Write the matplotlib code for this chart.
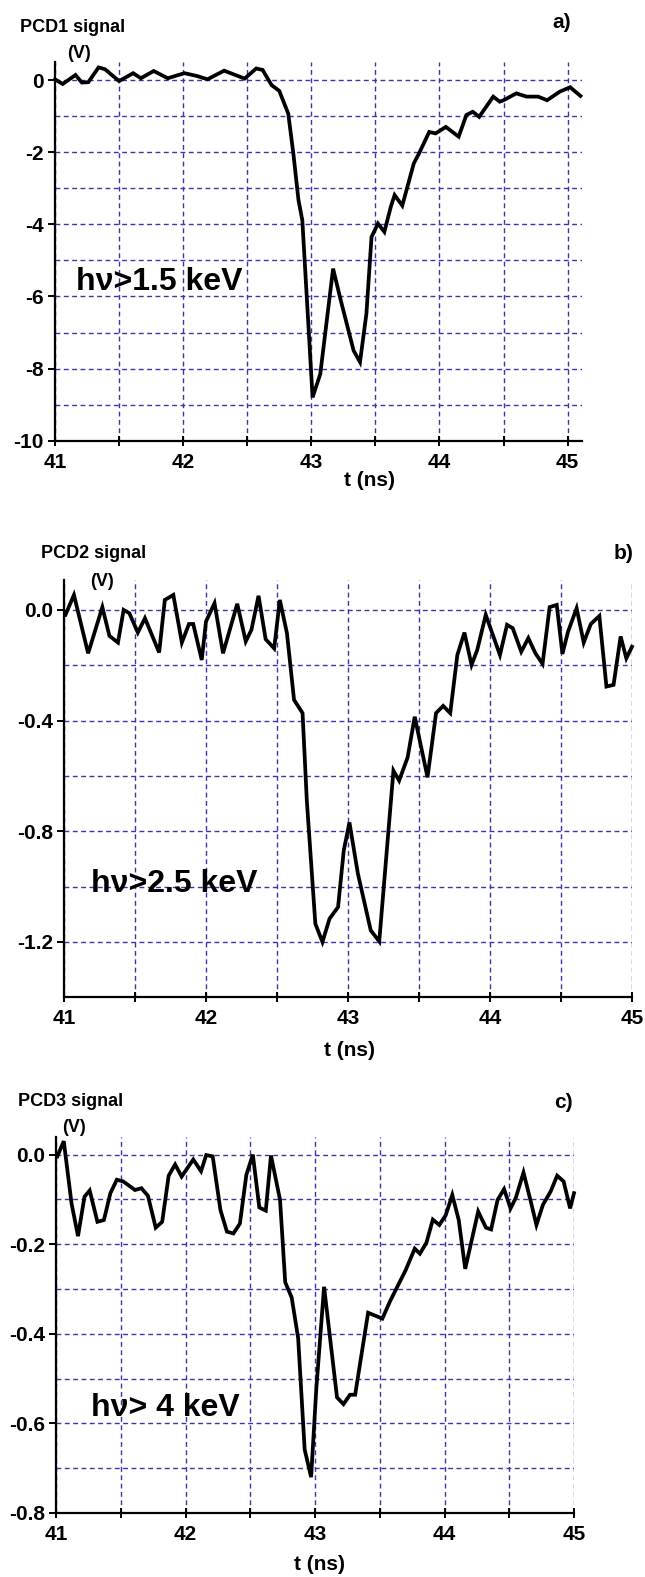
import matplotlib
matplotlib.use('Agg')
import matplotlib.pyplot as plt

plt.rcParams['font.family'] = ['Liberation Sans', 'DejaVu Sans']
plt.rcParams['font.weight'] = 'bold'
plt.rcParams['axes.unicode_minus'] = False

# panel a: PCD1
t_a = [41.0, 41.06, 41.16, 41.21, 41.26, 41.34, 41.39, 41.50, 41.61, 41.67,
       41.77, 41.88, 42.01, 42.11, 42.19, 42.32, 42.48, 42.57, 42.62, 42.69,
       42.75, 42.82, 42.86, 42.90, 42.93, 43.01, 43.07, 43.17, 43.23, 43.33,
       43.38, 43.43, 43.47, 43.52, 43.57, 43.62, 43.65, 43.71, 43.80, 43.84,
       43.92, 43.97, 44.05, 44.15, 44.21, 44.26, 44.31, 44.42, 44.47, 44.50,
       44.60, 44.68, 44.77, 44.84, 44.94, 45.02, 45.10]
v_a = [0.02, -0.11, 0.14, -0.07, -0.06, 0.35, 0.30, -0.03, 0.19, 0.05,
       0.25, 0.05, 0.19, 0.11, 0.02, 0.26, 0.04, 0.32, 0.28, -0.14,
       -0.30, -0.93, -2.04, -3.33, -3.89, -8.80, -8.15, -5.23, -6.11, -7.50,
       -7.82, -6.48, -4.35, -3.98, -4.21, -3.52, -3.19, -3.48, -2.31, -2.04,
       -1.44, -1.48, -1.30, -1.57, -0.97, -0.88, -1.02, -0.46, -0.60, -0.56,
       -0.37, -0.46, -0.46, -0.56, -0.32, -0.20, -0.44]

# panel b: PCD2
t_b = [41.01, 41.07, 41.17, 41.27, 41.32, 41.38, 41.42, 41.46, 41.52, 41.57,
       41.67, 41.71, 41.77, 41.83, 41.88, 41.91, 41.97, 42.00, 42.06, 42.12,
       42.22, 42.28, 42.32, 42.37, 42.42, 42.48, 42.52, 42.57, 42.62, 42.68,
       42.71, 42.77, 42.82, 42.87, 42.93, 42.97, 43.01, 43.07, 43.16, 43.22,
       43.32, 43.36, 43.42, 43.47, 43.56, 43.62, 43.67, 43.72, 43.77, 43.82,
       43.87, 43.91, 43.97, 44.07, 44.12, 44.16, 44.22, 44.27, 44.32, 44.37,
       44.42, 44.47, 44.51, 44.55, 44.61, 44.66, 44.71, 44.77, 44.82, 44.87,
       44.92, 44.96, 45.0]
v_b = [-0.018, 0.054, -0.157, 0.01, -0.094, -0.118, 0.0, -0.012, -0.082, -0.030,
       -0.154, 0.036, 0.054, -0.118, -0.051, -0.051, -0.181, -0.042, 0.024, -0.157,
       0.022, -0.114, -0.072, 0.051, -0.106, -0.139, 0.036, -0.084, -0.325, -0.373,
       -0.689, -1.134, -1.2, -1.116, -1.074, -0.870, -0.768, -0.954, -1.158, -1.198,
       -0.581, -0.617, -0.533, -0.386, -0.605, -0.373, -0.347, -0.373, -0.163, -0.082,
       -0.199, -0.145, -0.018, -0.163, -0.054, -0.066, -0.151, -0.102, -0.157, -0.195,
       0.01, 0.018, -0.159, -0.078, 0.006, -0.118, -0.051, -0.022, -0.277, -0.271,
       -0.096, -0.175, -0.133]

# panel c: PCD3
t_c = [41.01, 41.06, 41.12, 41.17, 41.22, 41.26, 41.32, 41.37, 41.42, 41.47,
       41.52, 41.61, 41.66, 41.71, 41.77, 41.82, 41.87, 41.92, 41.97, 42.06,
       42.12, 42.16, 42.21, 42.27, 42.32, 42.37, 42.42, 42.47, 42.52, 42.57,
       42.62, 42.66, 42.73, 42.77, 42.82, 42.87, 42.92, 42.97, 43.01, 43.07,
       43.17, 43.22, 43.27, 43.31, 43.41, 43.52, 43.58, 43.70, 43.77, 43.81,
       43.86, 43.91, 43.96, 44.01, 44.06, 44.11, 44.16, 44.21, 44.26, 44.32,
       44.36, 44.41, 44.46, 44.51, 44.55, 44.61, 44.67, 44.71, 44.76, 44.82,
       44.87, 44.92, 44.97, 45.0]
v_c = [-0.004, 0.030, -0.109, -0.182, -0.094, -0.080, -0.150, -0.146, -0.086, -0.056,
       -0.060, -0.079, -0.075, -0.092, -0.163, -0.150, -0.047, -0.022, -0.049, -0.011,
       -0.037, -0.001, -0.004, -0.124, -0.172, -0.176, -0.154, -0.045, 0.0, -0.118,
       -0.125, -0.002, -0.101, -0.285, -0.319, -0.410, -0.658, -0.720, -0.523, -0.295,
       -0.542, -0.557, -0.536, -0.536, -0.353, -0.366, -0.327, -0.258, -0.210, -0.221,
       -0.197, -0.145, -0.157, -0.135, -0.090, -0.146, -0.255, -0.191, -0.127, -0.163,
       -0.167, -0.101, -0.077, -0.120, -0.097, -0.040, -0.109, -0.157, -0.112, -0.082,
       -0.047, -0.060, -0.120, -0.086]

x_major = [41, 42, 43, 44, 45]
x_minor = [41.5, 42.5, 43.5, 44.5]

W, H = 645, 1577
fig = plt.figure(figsize=(W / 100, H / 100), dpi=100)


def px_axes(left, top, right, bottom):
    return fig.add_axes([left / W, 1 - bottom / H, (right - left) / W, (bottom - top) / H])


def px_text(x, y, s, **kw):
    fig.text(x / W, 1 - y / H, s, **kw)


def style(ax, xlim, ylim, ymaj, ylab, ymin):
    ax.set_xlim(*xlim)
    ax.set_ylim(*ylim)
    ax.set_xticks(x_major)
    ax.set_xticklabels([str(v) for v in x_major])
    ax.set_xticks(x_minor, minor=True)
    ax.set_yticks(ymaj)
    ax.set_yticklabels(ylab)
    ax.set_yticks(ymin, minor=True)
    for s in ['top', 'right']:
        ax.spines[s].set_visible(False)
    for s in ['left', 'bottom']:
        ax.spines[s].set_linewidth(1.6)
    ax.tick_params(axis='x', which='both', direction='inout', length=7, width=1.4,
                   pad=5, labelsize=15)
    ax.tick_params(axis='y', which='major', direction='out', length=5, width=1.4,
                   pad=3, labelsize=15)
    ax.tick_params(axis='y', which='minor', length=0)
    ax.grid(True, which='both', color='#3636b0', linestyle=(0, (3.5, 2.5)), linewidth=1.0)
    ax.set_axisbelow(True)


# ---- a)
ax1 = px_axes(55, 62, 581.7, 440.7)
ax1.plot(t_a, v_a, color='black', lw=2.7, solid_joinstyle='miter', clip_on=False)
style(ax1, (41, 45.11), (-10, 0.5), [0, -2, -4, -6, -8, -10],
      ['0', '-2', '-4', '-6', '-8', '-10'], [-1, -3, -5, -7, -9])
ax1.text(41.16, -5.6, 'h\u03bd>1.5 keV', fontsize=23, va='center', ha='left')
px_text(20, 27, 'PCD1 signal', fontsize=13, va='center')
px_text(67, 54, '(V)', fontsize=13, va='center')
px_text(571, 23, 'a)', fontsize=15, va='center', ha='right')
px_text(370, 481, 't (ns)', fontsize=15, va='center', ha='center')

# ---- b)
ax2 = px_axes(64, 580, 632, 997.3)
ax2.plot(t_b, v_b, color='black', lw=2.7, solid_joinstyle='miter', clip_on=False)
style(ax2, (41, 45), (-1.4, 0.108), [0.0, -0.4, -0.8, -1.2],
      ['0.0', '-0.4', '-0.8', '-1.2'], [-0.2, -0.6, -1.0])
ax2.text(41.19, -0.99, 'h\u03bd>2.5 keV', fontsize=23, va='center', ha='left')
px_text(41, 553, 'PCD2 signal', fontsize=13, va='center')
px_text(90, 582, '(V)', fontsize=13, va='center')
px_text(633, 554, 'b)', fontsize=15, va='center', ha='right')
px_text(349, 1050, 't (ns)', fontsize=15, va='center', ha='center')

# ---- c)
ax3 = px_axes(56, 1136.7, 574, 1513)
ax3.plot(t_c, v_c, color='black', lw=2.7, solid_joinstyle='miter', clip_on=False)
style(ax3, (41, 45), (-0.8, 0.04), [0.0, -0.2, -0.4, -0.6, -0.8],
      ['0.0', '-0.2', '-0.4', '-0.6', '-0.8'], [-0.1, -0.3, -0.5, -0.7])
ax3.text(41.27, -0.565, 'h\u03bd> 4 keV', fontsize=23, va='center', ha='left')
px_text(18, 1102, 'PCD3 signal', fontsize=13, va='center')
px_text(62, 1128, '(V)', fontsize=13, va='center')
px_text(573, 1102, 'c)', fontsize=15, va='center', ha='right')
px_text(319, 1564, 't (ns)', fontsize=15, va='center', ha='center')

fig.savefig('out.png', dpi=100)
